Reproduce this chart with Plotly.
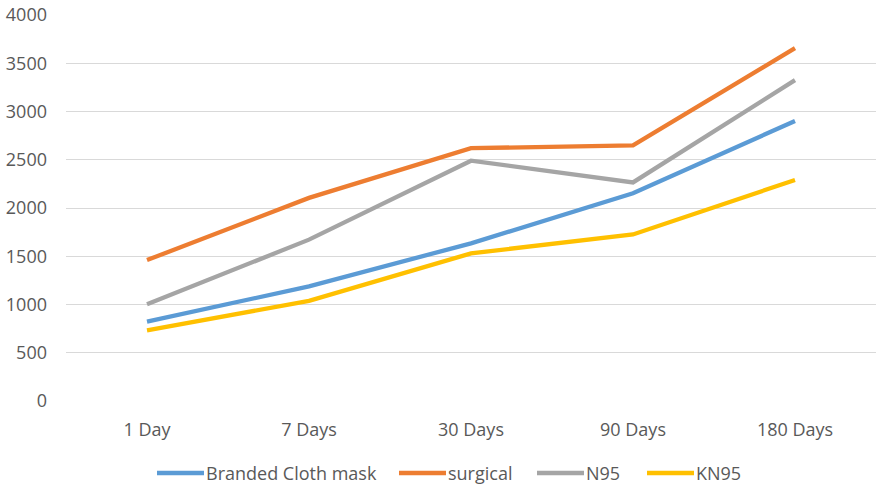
import plotly.graph_objects as go

categories = ["1 Day", "7 Days", "30 Days", "90 Days", "180 Days"]
branded = [822, 1188, 1634, 2153, 2902]
surgical = [1460, 2105, 2620, 2649, 3657]
n95 = [1002, 1672, 2490, 2265, 3325]
kn95 = [732, 1038, 1530, 1726, 2290]

series_names = ["Branded Cloth mask", "surgical", "N95", "KN95"]
series_values = [branded, surgical, n95, kn95]
series_colors = ["#5B9BD5", "#ED7D31", "#A5A5A5", "#FFC000"]

FONT = "'Open Sans', sans-serif"
TXT = "#595959"

# plot area in pixels
L, R, T, B = 66, 876, 15, 401
W, H = 876, 485

fig = go.Figure()
for name, vals, col in zip(series_names, series_values, series_colors):
    fig.add_trace(go.Scatter(x=categories, y=vals, name=name, mode="lines",
                             line=dict(color=col, width=4.3), showlegend=False))

# custom legend (Excel-style long line samples)
legend_line_x = [157, 399, 537, 647]
legend_line_len = 47
legend_y_px = 473
for name, col, lx in zip(series_names, series_colors, legend_line_x):
    x0 = (lx - L) / (R - L)
    x1 = (lx + legend_line_len - L) / (R - L)
    yy = (B - legend_y_px) / (B - T)
    fig.add_shape(type="line", xref="paper", yref="paper", x0=x0, x1=x1, y0=yy, y1=yy,
                  line=dict(color=col, width=4.3))
    fig.add_annotation(xref="paper", yref="paper", x=(lx + legend_line_len + 2 - L) / (R - L),
                       y=yy, text=name, showarrow=False, xanchor="left", yanchor="middle",
                       font=dict(family=FONT, size=18, color=TXT), xshift=-2)

fig.update_layout(
    width=W, height=H,
    margin=dict(l=L, r=W - R, t=T, b=H - B),
    plot_bgcolor="white", paper_bgcolor="white",
    font=dict(family=FONT, size=18, color=TXT),
    xaxis=dict(type="category", range=[-0.5, 4.5], showgrid=False, zeroline=False,
               showline=False, ticks="", ticklabelstandoff=16,
               tickfont=dict(family=FONT, size=18, color=TXT)),
    yaxis=dict(range=[0, 4000], dtick=500, showgrid=True, gridcolor="#D9D9D9",
               gridwidth=1, zeroline=False, showline=False, ticks="",
               ticklabelstandoff=18, tickfont=dict(family=FONT, size=18, color=TXT)),
    showlegend=False,
)

fig.write_html("out.html")
